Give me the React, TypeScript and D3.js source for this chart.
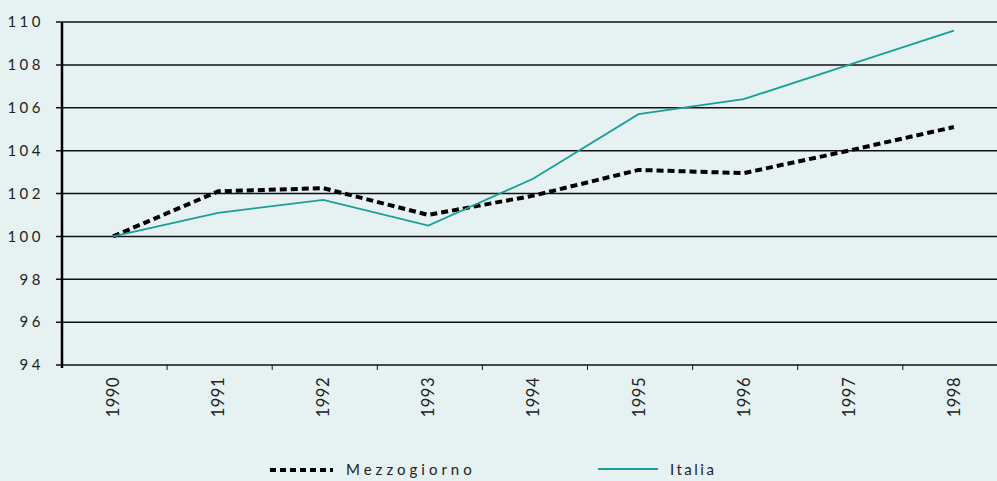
import React, { useEffect, useRef } from 'react';
import * as d3 from 'd3';

// Indice 1990 = 100
const years = ['1990', '1991', '1992', '1993', '1994', '1995', '1996', '1997', '1998'];
const mezzogiorno = [100, 102.1, 102.25, 101.0, 101.9, 103.1, 102.95, 104.0, 105.1];
const italia = [100, 101.1, 101.7, 100.5, 102.7, 105.7, 106.4, 108.0, 109.6];
const yTicks = [94, 96, 98, 100, 102, 104, 106, 108, 110];

const W = 997;
const H = 481;
const FONT = 'Lato, "Open Sans", sans-serif';
const TEAL = '#1a9e98';

const App = () => {
  const svgRef = useRef<SVGSVGElement>(null);

  useEffect(() => {
    const svg = d3.select(svgRef.current);
    svg.selectAll('*').remove();

    const margin = { top: 22, left: 62, bottom: 116 };
    const x = d3.scaleBand().domain(years).range([margin.left, margin.left + 105.1 * years.length]);
    const y = d3.scaleLinear().domain([94, 110]).range([H - margin.bottom, margin.top]);
    const cx = (yr: string) => (x(yr) as number) + x.bandwidth() / 2 - 1.5;

    svg.append('rect').attr('width', W).attr('height', H).attr('fill', '#e6f2f2');

    // grid + y labels
    const gy = svg.append('g');
    yTicks.forEach(t => {
      gy.append('line')
        .attr('x1', margin.left - 6).attr('x2', W)
        .attr('y1', y(t)).attr('y2', y(t))
        .attr('stroke', '#111').attr('stroke-width', 1.5);
      gy.append('text')
        .attr('x', 44).attr('y', y(t)).attr('dy', '0.35em')
        .attr('text-anchor', 'end')
        .attr('font-family', FONT).attr('font-size', 15)
        .attr('letter-spacing', 3.5)
        .attr('fill', '#222')
        .text(t);
    });

    // y axis line
    svg.append('line')
      .attr('x1', margin.left).attr('x2', margin.left)
      .attr('y1', y(110)).attr('y2', y(94) + 3)
      .attr('stroke', '#000').attr('stroke-width', 2.5);

    // x ticks at band boundaries + rotated labels
    years.forEach(yr => {
      const bx = (x(yr) as number) + x.bandwidth();
      svg.append('line')
        .attr('x1', bx).attr('x2', bx)
        .attr('y1', y(94)).attr('y2', y(94) + 5)
        .attr('stroke', '#111').attr('stroke-width', 1);
      svg.append('text')
        .attr('transform', `translate(${cx(yr) + 6},${y(94) + 12}) rotate(-90)`)
        .attr('text-anchor', 'end')
        .attr('font-family', FONT).attr('font-size', 16.5)
        .attr('letter-spacing', 0.5)
        .attr('fill', '#222')
        .text(yr);
    });

    const line = d3.line<number>()
      .x((d, i) => cx(years[i]))
      .y(d => y(d));

    svg.append('path')
      .datum(mezzogiorno)
      .attr('d', line)
      .attr('fill', 'none')
      .attr('stroke', '#000')
      .attr('stroke-width', 4)
      .attr('stroke-dasharray', '7,4');

    svg.append('path')
      .datum(italia)
      .attr('d', line)
      .attr('fill', 'none')
      .attr('stroke', TEAL)
      .attr('stroke-width', 1.8);

    // legend
    const lg = svg.append('g');
    lg.append('line')
      .attr('x1', 270).attr('x2', 333).attr('y1', 470).attr('y2', 470)
      .attr('stroke', '#000').attr('stroke-width', 4).attr('stroke-dasharray', '6,4');
    lg.append('text')
      .attr('x', 346).attr('y', 470).attr('dy', '0.35em')
      .attr('font-family', FONT).attr('font-size', 15).attr('letter-spacing', 4)
      .attr('fill', '#222')
      .text('Mezzogiorno');
    lg.append('line')
      .attr('x1', 598).attr('x2', 658).attr('y1', 469).attr('y2', 469)
      .attr('stroke', TEAL).attr('stroke-width', 1.8);
    lg.append('text')
      .attr('x', 670).attr('y', 470).attr('dy', '0.35em')
      .attr('font-family', FONT).attr('font-size', 15).attr('letter-spacing', 2.5)
      .attr('fill', '#222')
      .text('Italia');
  }, []);

  return <svg ref={svgRef} width={W} height={H} style={{ position: 'absolute', left: 0, top: 0 }} />;
};

export default App;
